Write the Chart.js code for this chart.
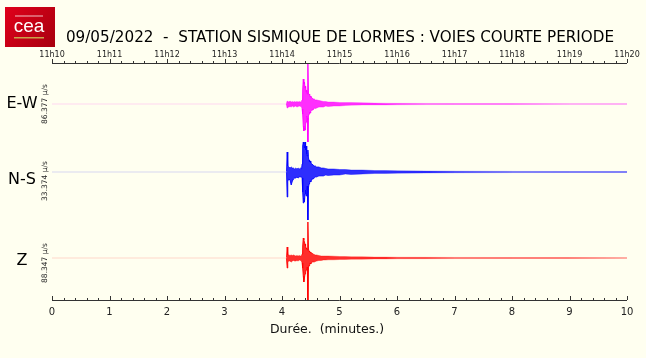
<!DOCTYPE html>
<html>
<head>
<meta charset="utf-8">
<script src="https://cdn.jsdelivr.net/npm/chart.js@4.4.1/dist/chart.umd.min.js"></script>
<style>
  html, body { margin: 0; padding: 0; background: #fffff0; }
  canvas { display: block; }
</style>
</head>
<body>
<canvas id="seismo" width="646" height="358"></canvas>
<script>
// time of each sample, minutes after 11h10
const times = [0, 4.07, 4.08, 4.09, 4.10, 4.12, 4.14, 4.16, 4.18, 4.20, 4.22, 4.24, 4.26, 4.28, 4.30, 4.32, 4.34,
  4.35, 4.36, 4.37, 4.38, 4.39, 4.40, 4.41, 4.42, 4.43, 4.44, 4.45, 4.46, 4.47, 4.48, 4.49, 4.50,
  4.52, 4.54, 4.56, 4.58, 4.60, 4.64, 4.68, 4.72, 4.76, 4.80, 4.90, 5.00, 5.10, 5.20,
  5.40, 5.60, 5.80, 6.00, 6.50, 7.00, 8.00, 9.00, 10.00];

// envelope of each channel (positive peak / negative peak)
const ewUp   = [0, 0, 1, 3, 2.5, 2, 3, 2, 2.5, 2, 2.5, 2, 2.5, 2, 2.5, 2, 3,
  4, 14, 25, 20, 22, 16, 18, 12, 14, 10, 41, 11, 9, 10, 7, 8,
  6, 5, 5, 4, 4, 3.5, 3, 2.5, 2.5, 2, 2, 1.5, 1.5, 1.5,
  1.2, 1, 0.8, 0.7, 0.6, 0.5, 0.4, 0.3, 0.3];
const ewDown = [0, 0, 1, 4, 3, 3, 2.5, 3, 2, 3, 2.5, 2, 3, 2.5, 2, 2.5, 2.5,
  5, 10, 22, 27, 24, 26, 20, 18, 12, 14, 38, 12, 10, 8, 9, 7,
  6, 6, 4, 4.5, 4, 3, 3, 3, 2, 2.5, 2, 2, 1.5, 1.2,
  1, 1, 1, 0.8, 0.6, 0.5, 0.4, 0.3, 0.3];

const nsUp   = [0, 0, 1, 20, 6, 5, 4, 5, 4, 4, 3, 4, 3, 4, 3, 4, 3,
  8, 26, 30, 28, 24, 30, 22, 26, 18, 16, 22, 14, 12, 10, 11, 9,
  8, 7, 6, 6, 5, 5, 4, 4, 3.5, 3, 3, 2.5, 2.5, 2,
  2, 1.5, 1.5, 1.2, 1, 0.8, 0.6, 0.5, 0.4];
const nsDown = [0, 0, 1, 25, 9, 7, 8, 13, 9, 7, 6, 6, 5, 6, 5, 5, 5,
  6, 20, 31, 26, 30, 22, 18, 24, 20, 14, 48, 16, 12, 11, 9, 10,
  7, 7, 6, 5, 5, 4, 4, 4, 3, 3.5, 3, 3, 2, 2.5,
  2, 1.5, 1.5, 1.2, 1, 0.8, 0.6, 0.5, 0.4];

const zUp    = [0, 0, 1, 11, 3, 3, 2.5, 3, 2.5, 3, 2.5, 2, 2.5, 2, 2.5, 2, 2.5,
  4, 12, 20, 18, 16, 14, 12, 10, 9, 8, 36, 9, 7, 6, 6, 5,
  5, 4, 3.5, 3, 3, 2.5, 2, 2, 2, 2, 1.8, 1.5, 1.5, 1.3,
  1.2, 1, 1, 0.8, 0.7, 0.6, 0.5, 0.4, 0.3];
const zDown  = [0, 0, 1, 10, 4, 3, 3, 4, 3, 2.5, 3, 3, 2.5, 3, 2, 2.5, 3,
  5, 10, 18, 24, 20, 16, 14, 12, 10, 9, 42, 8, 8, 7, 5, 6,
  4, 4, 4, 3.5, 3, 2.5, 2.5, 2, 2, 1.8, 1.8, 1.5, 1.5, 1.3,
  1.2, 1, 1, 0.8, 0.7, 0.6, 0.5, 0.4, 0.3];

const channels = ['E-W', 'N-S', 'Z'];
const units = ['86.377 µ/s', '33.374 µ/s', '88.347 µ/s'];
const clockLabels = ['11h10', '11h11', '11h12', '11h13', '11h14', '11h15', '11h16', '11h17', '11h18', '11h19', '11h20'];

// drawing style per channel: baseline on the shared y scale, colour, label shift
const traceStyle = [
  { up: ewUp, down: ewDown, base: 196, rgb: '255,0,255', labelShift: 0, unitShift: 0 },
  { up: nsUp, down: nsDown, base: 128, rgb: '0,0,255',   labelShift: 8, unitShift: 9 },
  { up: zUp,  down: zDown,  base: 42,  rgb: '255,0,0',   labelShift: 3, unitShift: 5 }
];

// thin tails are drawn lighter, like a dense trace seen from afar
function segColor(amp, rgb) {
  return function (ctx) {
    const a = Math.max(amp[ctx.p0DataIndex], amp[ctx.p1DataIndex]);
    const alpha = Math.min(0.9, 0.08 + a * 0.12);
    return 'rgba(' + rgb + ',' + alpha + ')';
  };
}

const datasets = [];
traceStyle.forEach(function (t, k) {
  const upper = times.map((x, i) => ({ x: x, y: t.base + t.up[i] }));
  const lower = times.map((x, i) => ({ x: x, y: t.base - t.down[i] }));
  // filled body between the two envelopes
  datasets.push({ label: channels[k] + ' body+', data: upper, borderWidth: 0, pointRadius: 0, fill: false });
  datasets.push({
    label: channels[k] + ' body-', data: lower, borderWidth: 0, pointRadius: 0,
    backgroundColor: 'rgba(' + t.rgb + ',0.82)', fill: '-1'
  });
  // envelope outlines, fading where the trace is quiet
  datasets.push({
    label: channels[k] + ' +', data: upper, borderWidth: 1, pointRadius: 0, fill: false,
    borderColor: 'rgb(' + t.rgb + ')', segment: { borderColor: segColor(t.up, t.rgb) }
  });
  datasets.push({
    label: channels[k] + ' -', data: lower, borderWidth: 1, pointRadius: 0, fill: false,
    borderColor: 'rgb(' + t.rgb + ')', segment: { borderColor: segColor(t.down, t.rgb) }
  });
});

const decor = {
  id: 'decor',
  beforeDraw(chart) {
    const ctx = chart.ctx;
    ctx.save();
    ctx.fillStyle = '#fffff0';
    ctx.fillRect(0, 0, chart.width, chart.height);
    ctx.restore();
  },
  afterDraw(chart) {
    const ctx = chart.ctx;
    const a = chart.chartArea;
    const sx = chart.scales.x;
    const sy = chart.scales.y;
    ctx.save();

    // axis lines and ticks (minor every 0.2 min)
    ctx.strokeStyle = '#333';
    ctx.lineWidth = 1;
    ctx.beginPath();
    ctx.moveTo(a.left, Math.round(a.top) + 0.5);
    ctx.lineTo(a.right, Math.round(a.top) + 0.5);
    ctx.moveTo(a.left, Math.round(a.bottom) + 0.5);
    ctx.lineTo(a.right, Math.round(a.bottom) + 0.5);
    for (let k = 0; k <= 50; k++) {
      const px = Math.round(sx.getPixelForValue(k / 5)) + 0.5;
      const len = k % 5 === 0 ? 4 : 2;
      ctx.moveTo(px, a.top);
      ctx.lineTo(px, a.top - len);
      ctx.moveTo(px, a.bottom);
      ctx.lineTo(px, a.bottom - len);
    }
    ctx.stroke();

    // title
    ctx.fillStyle = '#000';
    ctx.textAlign = 'center';
    ctx.textBaseline = 'middle';
    ctx.font = '15.2px "DejaVu Sans"';
    ctx.fillText('09/05/2022  -  STATION SISMIQUE DE LORMES : VOIES COURTE PERIODE', 340, 38);

    // x axis title
    ctx.fillStyle = '#111';
    ctx.font = '12.5px "DejaVu Sans"';
    ctx.fillText('Durée.  (minutes.)', 327, 330);

    // channel names and scale labels
    traceStyle.forEach(function (t, k) {
      const py = sy.getPixelForValue(t.base);
      ctx.fillStyle = '#000';
      ctx.font = '16px "DejaVu Sans"';
      ctx.textAlign = 'center';
      ctx.fillText(channels[k], 22, py + t.labelShift);
      ctx.save();
      ctx.translate(45, py + t.unitShift);
      ctx.rotate(-Math.PI / 2);
      ctx.fillStyle = '#222';
      ctx.font = '7.5px "DejaVu Sans"';
      ctx.fillText(units[k], 0, 0);
      ctx.restore();
    });

    // CEA logo
    const g = ctx.createLinearGradient(5, 7, 55, 47);
    g.addColorStop(0, '#e0001b');
    g.addColorStop(1, '#a8000f');
    ctx.fillStyle = g;
    ctx.fillRect(5, 7, 50, 40);
    ctx.fillStyle = 'rgba(255,255,255,0.75)';
    ctx.fillRect(15, 15.5, 28, 1);
    ctx.fillStyle = '#fff';
    ctx.font = '19px "Liberation Sans"';
    ctx.fillText('cea', 29, 27);
    ctx.fillStyle = '#c9a24a';
    ctx.fillRect(14, 37, 30, 1.5);
    ctx.restore();
  }
};

new Chart(document.getElementById('seismo'), {
  type: 'line',
  data: { datasets: datasets },
  options: {
    responsive: false,
    animation: false,
    events: [],
    layout: { padding: { left: 52, right: 19, top: 0, bottom: 0 } },
    plugins: { legend: { display: false }, tooltip: { enabled: false } },
    elements: { line: { tension: 0 } },
    scales: {
      x: {
        type: 'linear',
        position: 'bottom',
        min: 0,
        max: 10,
        afterFit: function (s) { s.height = 58; },
        grid: { display: false, drawTicks: false },
        border: { display: false },
        ticks: { stepSize: 1, padding: 6, color: '#222', font: { family: 'DejaVu Sans', size: 10 }, maxRotation: 0 }
      },
      x2: {
        type: 'linear',
        position: 'top',
        min: 0,
        max: 10,
        afterFit: function (s) { s.height = 63; },
        grid: { display: false, drawTicks: false },
        border: { display: false },
        ticks: {
          stepSize: 1, padding: 3, color: '#222', maxRotation: 0,
          font: { family: 'DejaVu Sans', size: 8 },
          callback: function (v) { return clockLabels[Math.round(v)]; }
        }
      },
      y: {
        type: 'linear',
        display: false,
        min: 0,
        max: 237
      }
    }
  },
  plugins: [decor]
});
</script>
</body>
</html>
